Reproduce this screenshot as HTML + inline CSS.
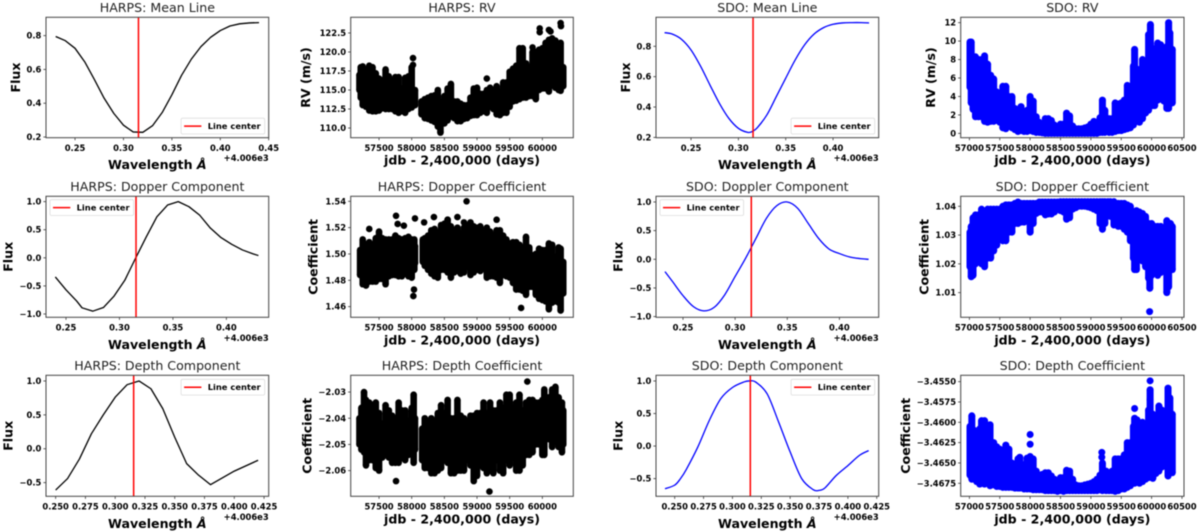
<!DOCTYPE html>
<html lang="en">
<head>
<meta charset="utf-8">
<title>HARPS and SDO line components</title>
<style>
html,body{margin:0;padding:0;background:#fff;}
#figure{display:block;width:1200px;height:532px;filter:blur(0.5px);}
text{font-family:"DejaVu Sans","Liberation Sans",sans-serif;fill:#000;}
</style>
</head>
<body>
<svg id="figure" xmlns="http://www.w3.org/2000/svg" width="1200" height="532" viewBox="0 0 1200 532"></svg>
<script>
// ---------- shared tick values ----------
const harpsDayTicks = [57500,58000,58500,59000,59500,60000];
const sdoDayTicks = [57000,57500,58000,58500,59000,59500,60000,60500];
const lineCenter = 0.3155;

// ---------- HARPS mean line ----------
const harpsMeanWave = [.23,.24,.25,.26,.27,.28,.29,.30,.31,.32,.33,.34,.35,.36,.37,.38,.39,.40,.41,.42,.43,.44];
const harpsMeanFlux = [.795,.77,.725,.645,.54,.43,.34,.27,.23,.228,.267,.345,.45,.565,.66,.735,.79,.83,.857,.87,.875,.877];

// ---------- HARPS doppler component ----------
const harpsDopWave = [.24,.25,.26,.265,.275,.285,.295,.305,.315,.325,.335,.345,.355,.365,.375,.385,.395,.405,.415,.425,.43];
const harpsDopFlux = [-.34,-.57,-.77,-.89,-.95,-.885,-.68,-.40,-.01,.37,.73,.94,1.0,.91,.76,.53,.36,.24,.14,.07,.04];

// ---------- HARPS depth component ----------
const harpsDepWave = [.25,.26,.27,.28,.29,.30,.31,.32,.33,.34,.35,.36,.37,.38,.40,.42];
const harpsDepFlux = [-.61,-.44,-.15,.22,.5,.76,.945,1.0,.885,.59,.17,-.22,-.39,-.53,-.33,-.17];

// ---------- SDO mean line ----------
const sdoMeanWave = [.222,.23,.24,.25,.26,.27,.28,.29,.30,.31,.315,.32,.33,.34,.35,.36,.37,.38,.39,.40,.41,.42,.43,.438];
const sdoMeanFlux = [.89,.881,.846,.776,.67,.545,.424,.325,.26,.233,.24,.264,.347,.468,.59,.71,.81,.881,.923,.945,.954,.956,.956,.954];

// ---------- SDO doppler component ----------
const sdoDopWave = [.2327,.24,.25,.26,.27,.28,.29,.30,.31,.32,.33,.34,.35,.36,.37,.38,.39,.40,.41,.42,.428];
const sdoDopFlux = [-.215,-.39,-.634,-.826,-.90,-.837,-.62,-.30,.017,.366,.715,.936,1.0,.89,.628,.366,.18,.10,.04,.012,0];

// ---------- SDO depth component ----------
const sdoDepWave = [.2416,.25,.255,.26,.27,.28,.29,.30,.31,.315,.32,.33,.34,.35,.36,.37,.375,.38,.39,.40,.41,.418];
const sdoDepFlux = [-.655,-.6,-.50,-.36,-.015,.395,.73,.90,.985,1.0,.985,.805,.37,-.09,-.50,-.67,-.68,-.645,-.45,-.30,-.143,-.07];

// ---------- HARPS RV cloud (envelope per day column, outliers) ----------
const harpsRvDays = [57200,57220,57250,57300,57350,57400,57450,57500,57550,57600,57650,57700,57750,57800,57850,57900,57950,58000,58050,58150,58200,58250,58300,58350,58400,58440,58500,58550,58600,58650,58700,58750,58800,58850,58900,58950,59000,59050,59100,59150,59200,59250,59300,59350,59400,59450,59500,59550,59600,59650,59700,59750,59800,59850,59900,59950,60000,60050,60100,60150,60200,60250,60280,60320];
const harpsRvHigh = [117,118,118.1,117.3,118.2,118,117.2,116.5,116.3,117.7,116.8,116.2,116.7,116.7,115.2,116.6,116.8,118,115,113.5,113.8,114,114.2,114.3,115,113.5,114.2,115.2,115.8,113.5,113.5,113.2,113,113,114,115.2,115.3,114.5,114.5,115,115.3,115,115.5,114.8,116,116,117.4,117.8,118.2,120.5,120.5,118.5,118,120,120,120.3,120.5,121.2,121.6,121.8,121.5,121,121.2,118];
const harpsRvLow = [115,114,113,112.8,112.3,112.2,112.2,112.3,112.6,112.5,112.5,112.5,112.2,112,112.2,112,112.5,112.7,113,111.8,111.3,111.2,111,110.8,110.2,109.4,110.6,111,111.5,111.3,110.9,110.9,111.2,111.3,111.6,111.7,111.7,112,112.2,112,112.8,112.5,111.8,111.7,112,112,112.8,113.5,113.6,113.8,114,114,114.2,114.2,113.8,115,115.2,115.2,114.8,115.6,115.3,115,114.9,115.5];
const harpsRvOutlierDays = [58020,58020,59960,59960,60100,60125,60280,60285,59850,59150];
const harpsRvOutlierValues = [119.2,118.3,123.1,122.6,122.9,122.7,123.8,123.4,120.6,116.5];

// ---------- HARPS doppler coefficient cloud ----------
const harpsDcDays = [57210,57250,57300,57350,57400,57450,57500,57550,57600,57650,57700,57750,57800,57850,57900,57950,58000,58040,58050,58170,58200,58250,58300,58350,58400,58450,58500,58550,58600,58650,58700,58750,58800,58850,58900,58950,59000,59050,59100,59150,59200,59250,59300,59350,59400,59450,59500,59550,59600,59650,59700,59750,59800,59850,59900,59950,60000,60050,60100,60150,60200,60250,60280,60320];
const harpsDcHigh = [1.503,1.511,1.505,1.509,1.506,1.512,1.517,1.512,1.511,1.511,1.511,1.514,1.512,1.511,1.512,1.513,1.511,1.511,1.506,1.511,1.512,1.514,1.518,1.519,1.516,1.522,1.523,1.526,1.521,1.518,1.520,1.516,1.520,1.522,1.524,1.521,1.520,1.521,1.517,1.520,1.517,1.514,1.518,1.518,1.514,1.511,1.508,1.509,1.509,1.507,1.505,1.513,1.505,1.499,1.500,1.504,1.503,1.503,1.508,1.507,1.498,1.505,1.504,1.494];
const harpsDcLow = [1.484,1.477,1.476,1.479,1.479,1.479,1.481,1.481,1.477,1.483,1.484,1.484,1.483,1.483,1.485,1.483,1.482,1.488,1.493,1.494,1.491,1.488,1.485,1.483,1.482,1.488,1.488,1.486,1.482,1.486,1.487,1.485,1.486,1.490,1.484,1.486,1.488,1.487,1.489,1.482,1.483,1.483,1.482,1.478,1.484,1.483,1.482,1.478,1.473,1.473,1.472,1.469,1.475,1.475,1.469,1.466,1.465,1.464,1.458,1.463,1.464,1.463,1.457,1.470];
const harpsDcOutlierDays = [57350,57760,57785,57880,58025,58035,58050,58190,58340,58550,58700,58800,58840,59300,59675];
const harpsDcOutlierValues = [1.519,1.529,1.5228,1.5215,1.468,1.473,1.527,1.524,1.528,1.526,1.528,1.524,1.54,1.526,1.459];

// ---------- HARPS depth coefficient cloud ----------
const harpsDpDays = [57200,57230,57270,57300,57350,57400,57450,57500,57550,57600,57650,57700,57750,57800,57850,57900,57950,58000,58030,58050,58160,58200,58250,58300,58350,58400,58450,58500,58550,58600,58650,58700,58750,58800,58850,58900,58950,59000,59050,59100,59150,59200,59250,59300,59350,59400,59450,59500,59550,59600,59650,59700,59750,59800,59850,59900,59950,60000,60030,60100,60150,60200,60250,60300,60320];
const harpsDpHigh = [-2.040,-2.036,-2.030,-2.033,-2.034,-2.035,-2.034,-2.038,-2.042,-2.035,-2.037,-2.039,-2.040,-2.034,-2.037,-2.037,-2.041,-2.036,-2.031,-2.040,-2.044,-2.040,-2.042,-2.040,-2.041,-2.038,-2.035,-2.038,-2.033,-2.040,-2.040,-2.033,-2.039,-2.040,-2.041,-2.039,-2.039,-2.038,-2.038,-2.034,-2.038,-2.034,-2.037,-2.037,-2.034,-2.036,-2.031,-2.031,-2.036,-2.034,-2.031,-2.037,-2.034,-2.033,-2.033,-2.034,-2.034,-2.033,-2.029,-2.032,-2.029,-2.028,-2.032,-2.034,-2.037];
const harpsDpLow = [-2.050,-2.052,-2.053,-2.058,-2.056,-2.056,-2.059,-2.060,-2.055,-2.054,-2.055,-2.057,-2.057,-2.057,-2.055,-2.056,-2.054,-2.051,-2.057,-2.052,-2.056,-2.059,-2.059,-2.061,-2.061,-2.060,-2.059,-2.056,-2.057,-2.061,-2.061,-2.060,-2.060,-2.060,-2.056,-2.058,-2.064,-2.062,-2.058,-2.059,-2.061,-2.060,-2.061,-2.056,-2.060,-2.061,-2.056,-2.058,-2.055,-2.060,-2.060,-2.058,-2.054,-2.054,-2.053,-2.050,-2.050,-2.054,-2.054,-2.048,-2.051,-2.049,-2.051,-2.053,-2.050];
const harpsDpOutlierDays = [57760,59190,59770];
const harpsDpOutlierValues = [-2.064,-2.068,-2.026];

// ---------- SDO RV cloud ----------
const sdoRvDays = [57010,57030,57060,57100,57150,57200,57250,57300,57350,57400,57450,57500,57550,57600,57650,57700,57750,57800,57850,57900,57950,58000,58050,58100,58150,58200,58250,58300,58350,58400,58450,58500,58550,58600,58650,58700,58750,58800,58850,58900,58950,59000,59050,59100,59150,59190,59230,59300,59350,59400,59450,59500,59550,59600,59650,59700,59720,59750,59800,59850,59900,59950,59980,60020,60050,60100,60150,60200,60250,60280,60300,60340];
const sdoRvHigh = [9.9,9.9,8.3,8.3,8,8,8.4,7.5,6.3,5.9,4.5,3.9,5.1,5.1,4,4,2.7,2.2,2.9,2.3,2.5,4,3.5,1.8,1.2,1,1.6,1.6,1.4,.9,.6,1,1,2.2,1.9,.8,.5,.5,.5,.6,.7,1,1.3,1.2,1.7,3.6,2.5,1.6,1.6,3.3,3.2,3.3,3.6,5.2,5,7.3,9.1,7,6.2,8,7,10.7,11.8,9.2,9,9.8,9.6,8.5,9.4,12,10.9,9.1];
const sdoRvLow = [5,3.3,2.6,1.8,1.8,1.8,1.3,1.2,1.3,1.3,1.4,1.2,.6,.5,.8,.6,.4,.2,.3,.2,.2,.3,.2,.1,.1,.05,0,0,0,0,0,0,0,0,0,0,0,0,0,0,0,0,0,0,.1,.1,.1,.1,.1,.2,.3,.3,.4,.5,.6,.9,1.5,1.3,1.2,1.6,2.2,2.5,3,3,3,3.6,3.8,3.5,2.7,2.7,3.2,3.3];
const sdoRvOutlierDays = [];
const sdoRvOutlierValues = [];

// ---------- SDO doppler coefficient cloud ----------
const sdoDcDays = [57010,57030,57060,57100,57150,57200,57250,57300,57350,57400,57450,57500,57550,57600,57650,57700,57750,57800,57850,57900,57950,58000,58050,58100,58150,58200,58250,58300,58350,58400,58450,58500,58550,58600,58650,58700,58750,58800,58850,58900,58950,59000,59050,59100,59150,59190,59230,59280,59320,59380,59450,59500,59550,59600,59650,59700,59720,59750,59800,59850,59900,59950,59970,60000,60050,60100,60150,60200,60250,60280,60310,60340];
const sdoDcHigh = [1.031,1.033,1.036,1.037,1.037,1.039,1.038,1.039,1.039,1.039,1.039,1.039,1.040,1.0405,1.0405,1.0405,1.041,1.0415,1.041,1.041,1.041,1.041,1.041,1.041,1.0415,1.0415,1.0415,1.0415,1.0415,1.0415,1.0415,1.0416,1.0416,1.0416,1.0416,1.0416,1.0416,1.0416,1.0416,1.0416,1.0416,1.0416,1.0416,1.0416,1.0416,1.0416,1.0416,1.0416,1.0416,1.0416,1.041,1.041,1.041,1.0405,1.040,1.038,1.0375,1.0385,1.038,1.0375,1.0365,1.034,1.031,1.034,1.033,1.033,1.033,1.031,1.035,1.034,1.034,1.033];
const sdoDcLow = [1.019,1.0155,1.016,1.020,1.021,1.020,1.019,1.022,1.022,1.0245,1.0265,1.0285,1.028,1.028,1.031,1.031,1.034,1.034,1.0345,1.0345,1.035,1.031,1.034,1.0375,1.038,1.038,1.037,1.0373,1.0373,1.038,1.039,1.0385,1.038,1.0355,1.036,1.039,1.0395,1.040,1.040,1.040,1.0398,1.0395,1.039,1.0385,1.034,1.032,1.034,1.037,1.0365,1.0335,1.033,1.033,1.032,1.031,1.028,1.022,1.018,1.018,1.024,1.021,1.019,1.015,1.0115,1.016,1.017,1.016,1.017,1.018,1.010,1.012,1.018,1.018];
const sdoDcOutlierDays = [59967];
const sdoDcOutlierValues = [1.0034];

// ---------- SDO depth coefficient cloud ----------
const sdoDpDays = [57010,57040,57080,57120,57170,57200,57250,57300,57340,57400,57450,57500,57550,57600,57650,57700,57750,57800,57830,57900,57950,58000,58050,58100,58150,58200,58250,58300,58350,58400,58450,58500,58550,58600,58650,58700,58750,58800,58850,58900,58950,59000,59050,59100,59150,59190,59250,59300,59350,59400,59450,59500,59550,59600,59650,59700,59720,59760,59800,59850,59900,59950,59975,60020,60070,60120,60170,60220,60270,60300,60340];
const sdoDpHigh = [-3.4605,-3.4592,-3.4610,-3.4612,-3.4608,-3.4598,-3.4598,-3.4605,-3.4603,-3.4625,-3.4630,-3.4633,-3.4635,-3.4628,-3.4633,-3.4650,-3.4653,-3.4645,-3.4643,-3.4652,-3.4644,-3.4642,-3.4645,-3.4660,-3.4665,-3.4664,-3.4662,-3.4662,-3.4666,-3.4670,-3.4675,-3.4668,-3.4668,-3.4659,-3.4660,-3.4670,-3.4677,-3.4678,-3.4678,-3.4677,-3.4676,-3.4675,-3.4673,-3.4670,-3.4665,-3.4650,-3.4660,-3.4665,-3.4660,-3.4645,-3.4645,-3.4645,-3.4640,-3.4625,-3.4625,-3.4605,-3.4595,-3.4597,-3.4608,-3.4600,-3.4602,-3.4585,-3.4560,-3.4590,-3.4600,-3.4580,-3.4585,-3.4592,-3.4558,-3.4570,-3.4590];
const sdoDpLow = [-3.4665,-3.4670,-3.4670,-3.4673,-3.4676,-3.4672,-3.4676,-3.4675,-3.4678,-3.4677,-3.4679,-3.4679,-3.4680,-3.4680,-3.4680,-3.4680,-3.4681,-3.4681,-3.4681,-3.4682,-3.4682,-3.4682,-3.4683,-3.4683,-3.4683,-3.4683,-3.4684,-3.4684,-3.4684,-3.4684,-3.4685,-3.4684,-3.4685,-3.4684,-3.4684,-3.4684,-3.4684,-3.4684,-3.4684,-3.4684,-3.4684,-3.4684,-3.4684,-3.4684,-3.4683,-3.4684,-3.4684,-3.4684,-3.4684,-3.4685,-3.4684,-3.4682,-3.4682,-3.4680,-3.4678,-3.4675,-3.4675,-3.4673,-3.4675,-3.4673,-3.4670,-3.4668,-3.4663,-3.4669,-3.4663,-3.4660,-3.4655,-3.4652,-3.4666,-3.4660,-3.4662];
const sdoDpOutlierDays = [58000,58000,59180,59180,59720,59975,59975];
const sdoDpOutlierValues = [-3.4615,-3.4627,-3.4637,-3.4643,-3.4583,-3.4549,-3.4572];

// ---------- panel layout (axes frames, limits, labels) ----------
const NS = 'http://www.w3.org/2000/svg';
const fig = document.getElementById('figure');
const colEdges = [[46,268.7],[350.7,573.3],[656,878.7],[960.7,1184]];
const rowEdges = [[17.3,137.7],[196.3,317.3],[375.3,496.3]];

const harpsXlim = [57066,60474];
const sdoXlim = [56857,60533];

const linePanels = [
 {slug:'harps-mean-line',title:'HARPS: Mean Line',col:0,row:0,color:'#000',smooth:false,x:harpsMeanWave,y:harpsMeanFlux,xlim:[.22,.45],ylim:[.196,.9085],xticks:[.25,.30,.35,.40,.45],xdec:2,yticks:[.2,.4,.6,.8],ydec:1,labelX:20,legend:'lower-right'},
 {slug:'harps-doppler-component',title:'HARPS: Dopper Component',col:0,row:1,color:'#000',smooth:false,x:harpsDopWave,y:harpsDopFlux,xlim:[.2313,.4396],ylim:[-1.059,1.095],xticks:[.25,.30,.35,.40],xdec:2,yticks:[-1,-.5,0,.5,1],ydec:1,labelX:12.7,legend:'upper-left'},
 {slug:'harps-depth-component',title:'HARPS: Depth Component',col:0,row:2,color:'#000',smooth:false,x:harpsDepWave,y:harpsDepFlux,xlim:[.2419,.4289],ylim:[-.7017,1.0836],xticks:[.25,.275,.30,.325,.35,.375,.40,.425],xdec:3,yticks:[-.5,0,.5,1],ydec:1,labelX:12.7,legend:'upper-right'},
 {slug:'sdo-mean-line',title:'SDO: Mean Line',col:2,row:0,color:'#0000ff',smooth:true,x:sdoMeanWave,y:sdoMeanFlux,xlim:[.213,.4482],ylim:[.198,.991],xticks:[.25,.30,.35,.40],xdec:2,yticks:[.2,.4,.6,.8],ydec:1,labelX:630,legend:'lower-right'},
 {slug:'sdo-doppler-component',title:'SDO: Doppler Component',col:2,row:1,color:'#0000ff',smooth:true,x:sdoDopWave,y:sdoDopFlux,xlim:[.2241,.4377],ylim:[-1.012,1.0988],xticks:[.25,.30,.35,.40],xdec:2,yticks:[-1,-.5,0,.5,1],ydec:1,labelX:622.7,legend:'upper-left'},
 {slug:'sdo-depth-component',title:'SDO: Depth Component',col:2,row:2,color:'#0000ff',smooth:true,x:sdoDepWave,y:sdoDepFlux,xlim:[.2338,.4267],ylim:[-.7714,1.087],xticks:[.25,.275,.30,.325,.35,.375,.40,.425],xdec:3,yticks:[-.5,0,.5,1],ydec:1,labelX:622.7,legend:'upper-right'}
];

const scatterPanels = [
 {slug:'harps-rv',title:'HARPS: RV',ylabel:'RV (m/s)',col:1,row:0,color:'#000',r:3.3,days:harpsRvDays,high:harpsRvHigh,low:harpsRvLow,odays:harpsRvOutlierDays,ovals:harpsRvOutlierValues,xlim:harpsXlim,ylim:[108.73,124.56],xticks:harpsDayTicks,yticks:[110,112.5,115,117.5,120,122.5],ydec:1,labelX:310},
 {slug:'harps-doppler-coefficient',title:'HARPS: Dopper Coefficient',ylabel:'Coefficient',col:1,row:1,color:'#000',r:3.3,days:harpsDcDays,high:harpsDcHigh,low:harpsDcLow,odays:harpsDcOutlierDays,ovals:harpsDcOutlierValues,xlim:harpsXlim,ylim:[1.4519,1.5438],xticks:harpsDayTicks,yticks:[1.46,1.48,1.50,1.52,1.54],ydec:2,labelX:317.3},
 {slug:'harps-depth-coefficient',title:'HARPS: Depth Coefficient',ylabel:'Coefficient',col:1,row:2,color:'#000',r:3.3,days:harpsDpDays,high:harpsDpHigh,low:harpsDpLow,odays:harpsDpOutlierDays,ovals:harpsDpOutlierValues,xlim:harpsXlim,ylim:[-2.0698,-2.0236],xticks:harpsDayTicks,yticks:[-2.06,-2.05,-2.04,-2.03],ydec:2,labelX:311.7},
 {slug:'sdo-rv',title:'SDO: RV',ylabel:'RV (m/s)',col:3,row:0,color:'#0000ff',r:3.5,days:sdoRvDays,high:sdoRvHigh,low:sdoRvLow,odays:sdoRvOutlierDays,ovals:sdoRvOutlierValues,xlim:sdoXlim,ylim:[-.47,12.58],xticks:sdoDayTicks,yticks:[0,2,4,6,8,10,12],ydec:0,labelX:935},
 {slug:'sdo-doppler-coefficient',title:'SDO: Dopper Coefficient',ylabel:'Coefficient',col:3,row:1,color:'#0000ff',r:3.5,days:sdoDcDays,high:sdoDcHigh,low:sdoDcLow,odays:sdoDcOutlierDays,ovals:sdoDcOutlierValues,xlim:sdoXlim,ylim:[1.00143,1.04347],xticks:sdoDayTicks,yticks:[1.01,1.02,1.03,1.04],ydec:2,labelX:928.3},
 {slug:'sdo-depth-coefficient',title:'SDO: Depth Coefficient',ylabel:'Coefficient',col:3,row:2,color:'#0000ff',r:3.5,days:sdoDpDays,high:sdoDpHigh,low:sdoDpLow,odays:sdoDpOutlierDays,ovals:sdoDpOutlierValues,xlim:sdoXlim,ylim:[-3.4691,-3.45422],xticks:sdoDayTicks,yticks:[-3.4675,-3.465,-3.4625,-3.46,-3.4575,-3.455],ydec:4,labelX:910}
];

function make(tag, attrs, parent){
  const node = document.createElementNS(NS, tag);
  for (const k in attrs) node.setAttribute(k, attrs[k]);
  parent.appendChild(node);
  return node;
}
function scale(domain, range){
  return v => range[0] + (v - domain[0]) * (range[1] - range[0]) / (domain[1] - domain[0]);
}
function fmt(v, dec){
  return v.toFixed(dec).replace('-', '\u2212');
}
function curvePath(xs, ys, smooth){
  let d = 'M' + xs[0].toFixed(2) + ' ' + ys[0].toFixed(2);
  for (let i = 1; i < xs.length; i++) {
    if (!smooth) {
      d += 'L' + xs[i].toFixed(2) + ' ' + ys[i].toFixed(2);
      continue;
    }
    const a = Math.max(i - 2, 0), b = i - 1, c = i, e = Math.min(i + 1, xs.length - 1);
    const c1x = xs[b] + (xs[c] - xs[a]) / 6, c1y = ys[b] + (ys[c] - ys[a]) / 6;
    const c2x = xs[c] - (xs[e] - xs[b]) / 6, c2y = ys[c] - (ys[e] - ys[b]) / 6;
    d += 'C' + c1x.toFixed(2) + ' ' + c1y.toFixed(2) + ' ' + c2x.toFixed(2) + ' ' + c2y.toFixed(2) + ' ' + xs[c].toFixed(2) + ' ' + ys[c].toFixed(2);
  }
  return d;
}

function drawFrame(p, xAxis, yAxis, box, xFormat, xLabelText, xLabelDy, yLabelText){
  const g = make('g', {}, fig);
  
  

  const title = make('text', {x:(box.l+box.r)/2, y:box.t-5.2, 'text-anchor':'middle', 'font-size':12.6, style:'fill:#222'}, g);
  title.textContent = p.title;
  
  

  p.xticks.forEach(v => {
    const px = xAxis(v);
    const tick = make('line', {x1:px, x2:px, y1:box.b, y2:box.b+2.6, stroke:'#333', 'stroke-width':.8}, g);
    
    
    const lab = make('text', {x:px, y:box.b+13.2, 'text-anchor':'middle', 'font-size':8.4, 'font-weight':'bold'}, g);
    lab.textContent = xFormat(v);
    
    
  });
  p.yticks.forEach(v => {
    const py = yAxis(v);
    const tick = make('line', {x1:box.l-2.6, x2:box.l, y1:py, y2:py, stroke:'#333', 'stroke-width':.8}, g);
    
    
    const lab = make('text', {x:box.l-4.6, y:py+3, 'text-anchor':'end', 'font-size':8.4, 'font-weight':'bold'}, g);
    lab.textContent = fmt(v, p.ydec);
    
    
  });

  const xl = make('text', {x:(box.l+box.r)/2, y:box.b+xLabelDy, 'text-anchor':'middle', 'font-size':12.6, 'font-weight':'bold'}, g);
  if (xLabelText === 'Wavelength') {
    xl.appendChild(document.createTextNode('Wavelength '));
    const a = make('tspan', {'font-style':'italic'}, xl);
    a.textContent = '\u00C5';
  } else {
    xl.textContent = xLabelText;
  }
  
  

  const cy = (box.t+box.b)/2;
  const yl = make('text', {x:p.labelX, y:cy, 'text-anchor':'middle', 'font-size':12.6, 'font-weight':'bold', transform:'rotate(-90 '+p.labelX+' '+cy+')'}, g);
  yl.textContent = yLabelText;
  
  
  return g;
}

function drawSpines(box, g){
  const frame = make('rect', {x:box.l, y:box.t, width:box.r-box.l, height:box.b-box.t, fill:'none', stroke:'#444', 'stroke-width':1}, g);
  
  
}

function drawLinePanel(p){
  const box = {l:colEdges[p.col][0], r:colEdges[p.col][1], t:rowEdges[p.row][0], b:rowEdges[p.row][1]};
  const xAxis = scale(p.xlim, [box.l, box.r]);
  const yAxis = scale(p.ylim, [box.b, box.t]);
  const g = drawFrame(p, xAxis, yAxis, box, v => v.toFixed(p.xdec), 'Wavelength', 31.5, 'Flux');

  const curve = make('path', {d:curvePath(p.x.map(xAxis), p.y.map(yAxis), p.smooth), fill:'none', stroke:p.color, 'stroke-width':1.3, 'stroke-linejoin':'round'}, g);
  
  

  const cx = xAxis(lineCenter);
  const vline = make('line', {x1:cx, x2:cx, y1:box.t, y2:box.b, stroke:'#f00', 'stroke-width':1.5}, g);
  
  

  const offset = make('text', {x:box.r, y:box.b+23.5, 'text-anchor':'end', 'font-size':8.4, 'font-weight':'bold'}, g);
  offset.textContent = '+4.006e3';
  
  

  drawSpines(box, g);

  const w = 83.6, h = 15.8;
  let lx, ly;
  if (p.legend === 'lower-right') { lx = box.r-w-4; ly = box.b-h-3.7; }
  if (p.legend === 'upper-right') { lx = box.r-w-4; ly = box.t+4; }
  if (p.legend === 'upper-left')  { lx = box.l+4;   ly = box.t+3.4; }
  const lg = make('g', {}, g);
  
  
  const lbox = make('rect', {x:lx, y:ly, width:w, height:h, rx:1.5, fill:'#fff', stroke:'#ddd', 'stroke-width':.8}, lg);
  
  
  const lline = make('line', {x1:lx+3, x2:lx+20.3, y1:ly+h/2, y2:ly+h/2, stroke:'#f00', 'stroke-width':1.5}, lg);
  
  
  const ltext = make('text', {x:lx+26.6, y:ly+h/2+3, 'font-size':8.35, 'font-weight':'bold'}, lg);
  ltext.textContent = 'Line center';
  
  
}

function drawScatterPanel(p){
  const box = {l:colEdges[p.col][0], r:colEdges[p.col][1], t:rowEdges[p.row][0], b:rowEdges[p.row][1]};
  const xAxis = scale(p.xlim, [box.l, box.r]);
  const yAxis = scale(p.ylim, [box.b, box.t]);
  const g = drawFrame(p, xAxis, yAxis, box, v => String(v), 'jdb - 2,400,000 (days)', 27, p.ylabel);

  const marks = make('g', {fill:p.color, stroke:'none'}, g);
  
  

  p.days.forEach((d, i) => {
    const px = xAxis(d);
    const hi = yAxis(p.high[i]);
    const lo = yAxis(p.low[i]);
    const span = make('line', {x1:px, x2:px, y1:hi, y2:lo, stroke:p.color, 'stroke-width':p.r*2}, marks);
    
    
    const top = make('circle', {cx:px, cy:hi, r:p.r}, marks);
    
    
    const bot = make('circle', {cx:px, cy:lo, r:p.r}, marks);
    
    
  });
  p.odays.forEach((d, i) => {
    const dot = make('circle', {cx:xAxis(d), cy:yAxis(p.ovals[i]), r:p.r}, marks);
    
    
  });
  drawSpines(box, g);
}

linePanels.forEach(drawLinePanel);
scatterPanels.forEach(drawScatterPanel);
</script>
</body>
</html>
